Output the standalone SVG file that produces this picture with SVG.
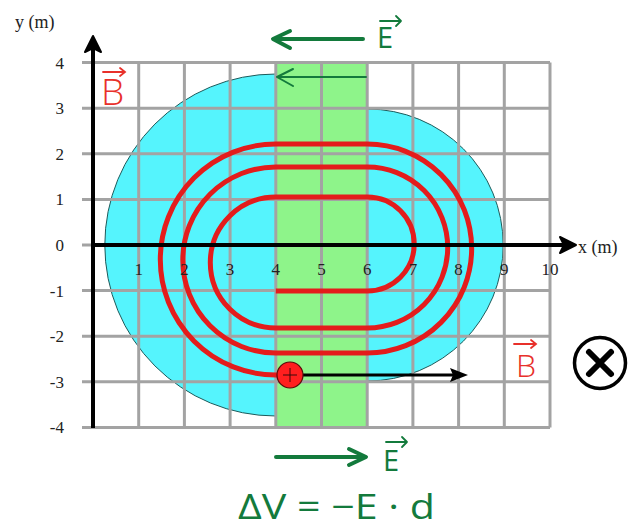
<svg xmlns="http://www.w3.org/2000/svg" width="641" height="529" viewBox="0 0 641 529">
<style>
.grid{stroke:#a3a3a3;stroke-width:3;fill:none}
.tick{font-family:"Liberation Serif",serif;font-size:17px;fill:#222}
.axlab{font-family:"Liberation Serif",serif;font-size:18px;fill:#222}
.hand-g{font-family:"Open Sans","DejaVu Sans",sans-serif;font-weight:400;fill:#137a3c}
.hand-r{font-family:"Open Sans","DejaVu Sans",sans-serif;font-weight:300;fill:#e8302a}
.garrow{stroke:#137a3c;fill:none;stroke-linecap:round;stroke-linejoin:round}
.rvec{stroke:#e8302a;stroke-width:1.8;fill:none;stroke-linecap:round}
</style>
<rect width="641" height="529" fill="#ffffff"/>
<g id="field-region">
<path d="M275.8 74 A171 171 0 0 0 275.8 416" fill="#55f4fd" stroke="#1e5a5a" stroke-width="1"/>
<path d="M367.2 109 A136 136 0 0 1 367.2 381" fill="#55f4fd" stroke="#1e5a5a" stroke-width="1"/>
<rect x="275.8" y="62.6" width="91.4" height="364.8" fill="#8ef48a"/>
</g>
<g id="grid">
<path class="grid" d="M82 62.6H550M82 108.2H550M82 153.8H550M82 199.4H550M82 245H550M82 290.6H550M82 336.2H550M82 381.8H550M82 427.4H550"/>
<path class="grid" d="M138.7 62.6V427.4M184.4 62.6V427.4M230.1 62.6V427.4M275.8 62.6V427.4M321.5 62.6V427.4M367.2 62.6V427.4M412.9 62.6V427.4M458.6 62.6V427.4M504.3 62.6V427.4M550 62.6V427.4"/>
</g>
<g id="path">
<path d="M275.8 291 H367.2 A47 47 0 0 0 367.2 197 H275.8 A65.5 65.5 0 0 0 275.8 328 H367.2 A80.5 80.5 0 0 0 367.2 167 H275.8 A93 93 0 0 0 275.8 353 H367.2 A104.5 104.5 0 0 0 367.2 144 H275.8 A115.5 115.5 0 0 0 275.8 375 H290" fill="none" stroke="#e41c1c" stroke-width="5"/>
</g>
<g id="axes">
<line x1="93" y1="428" x2="93" y2="46" stroke="#000" stroke-width="4"/>
<path d="M93 36 L101 52 L93 48 L85 52 Z" fill="#000" stroke="#000" stroke-width="2" stroke-linejoin="round"/>
<line x1="93" y1="245" x2="565" y2="245" stroke="#000" stroke-width="4"/>
<path d="M576 245 L560 237 L564 245 L560 253 Z" fill="#000" stroke="#000" stroke-width="2" stroke-linejoin="round"/>
<text class="axlab" x="15" y="28">y (m)</text>
<text class="axlab" x="578" y="253">x (m)</text>
</g>
<g id="ticks-y" class="tick" text-anchor="end">
<text x="64" y="68.6">4</text>
<text x="64" y="114.2">3</text>
<text x="64" y="159.8">2</text>
<text x="64" y="205.4">1</text>
<text x="64" y="251">0</text>
<text x="64" y="296.6">-1</text>
<text x="64" y="342.2">-2</text>
<text x="64" y="387.8">-3</text>
<text x="64" y="433.4">-4</text>
</g>
<g id="ticks-x" class="tick" text-anchor="middle">
<text x="138.7" y="275">1</text>
<text x="184.4" y="275">2</text>
<text x="230.1" y="275">3</text>
<text x="275.8" y="275">4</text>
<text x="321.5" y="275">5</text>
<text x="367.2" y="275">6</text>
<text x="412.9" y="275">7</text>
<text x="458.6" y="275">8</text>
<text x="504.3" y="275">9</text>
<text x="550" y="275">10</text>
</g>
<g id="particle">
<line x1="303" y1="375" x2="455" y2="375" stroke="#000" stroke-width="3"/>
<path d="M468 375 L450 368 L453 375 L450 382 Z" fill="#000"/>
<circle cx="290" cy="375" r="13" fill="#ff1f1f" stroke="#5a0a0a" stroke-width="1.2"/>
<path d="M283 375H297M290 368V382" stroke="#3a0a0a" stroke-width="1"/>
</g>
<g id="inner-E-arrow">
<path class="garrow" stroke-width="2" d="M366 77 H278 M293 69 L277 77 L293 86"/>
</g>
<g id="E-top">
<path class="garrow" stroke-width="4" d="M363 39 H274 M290 31 L273 39 L290 48"/>
<text class="hand-g" x="377" y="48" font-size="29">E</text>
<path class="garrow" stroke-width="1.8" d="M380 21 H401 M396 16 L401 21 L396 26"/>
</g>
<g id="E-bottom">
<path class="garrow" stroke-width="4" d="M276 457 H365 M349 449 L366 457 L349 465"/>
<text class="hand-g" x="383" y="471" font-size="29">E</text>
<path class="garrow" stroke-width="1.8" d="M386 442 H407 M402 437 L407 442 L402 447"/>
</g>
<g id="equation">
<text class="hand-g" x="238" y="519" font-size="35" textLength="197" lengthAdjust="spacingAndGlyphs">ΔV = −E · d</text>
</g>
<g id="B-top">
<text class="hand-r" x="101" y="105" font-size="37">B</text>
<path class="rvec" d="M103 72 H125 M120 68 L125 72 L120 76"/>
</g>
<g id="B-right">
<text class="hand-r" x="516" y="377" font-size="32">B</text>
<path class="rvec" d="M514 344 H536 M531 340 L536 344 L531 348"/>
</g>
<g id="into-page">
<circle cx="600" cy="363" r="25.5" fill="none" stroke="#000" stroke-width="3.5"/>
<path d="M589 352 L611 374 M611 352 L589 374" stroke="#000" stroke-width="6" stroke-linecap="round"/>
</g>
</svg>
